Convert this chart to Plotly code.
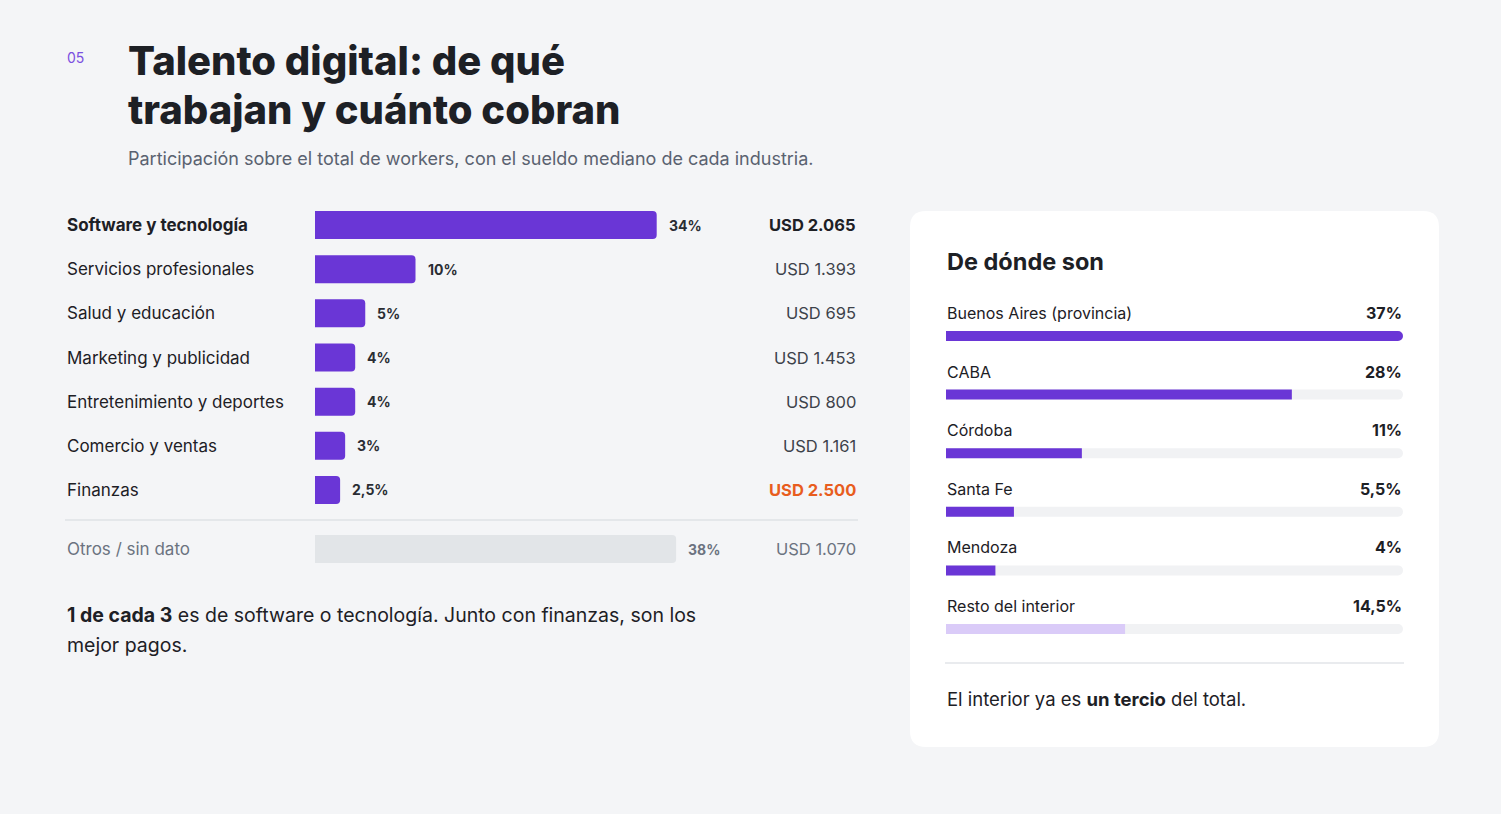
import plotly.graph_objects as go

# datos
industrias = ["Software y tecnología", "Servicios profesionales", "Salud y educación",
              "Marketing y publicidad", "Entretenimiento y deportes", "Comercio y ventas", "Finanzas"]
participacion = [34, 10, 5, 4, 4, 3, 2.5]
sueldo_mediano = [2065, 1393, 695, 1453, 800, 1161, 2500]
otros_label = "Otros / sin dato"
otros_participacion = 38
otros_sueldo = 1070

provincias = ["Buenos Aires (provincia)", "CABA", "Córdoba", "Santa Fe", "Mendoza", "Resto del interior"]
prov_participacion = [37, 28, 11, 5.5, 4, 14.5]

W, H = 1501, 814
FONT = "Inter"
PURPLE = "#6a36d6"
LIGHT_PURPLE = "#dacbf8"
DARK = "#1d2025"
GRAY = "#6b7380"
BG = "#f4f5f7"


def px(x):
    return x / W


def py(y):
    return 1 - y / H


def fmt_pct(v):
    s = f"{v:g}".replace(".", ",")
    return s + "%"


def fmt_usd(v):
    return "USD " + f"{v:,}".replace(",", ".")


fig = go.Figure()

# barras principales
rows = list(range(len(industrias)))
fig.add_trace(go.Bar(x=participacion, y=rows, orientation="h", width=0.634,
                     marker=dict(color=PURPLE, cornerradius=4, line_width=0),
                     xaxis="x", yaxis="y", hoverinfo="skip"))
fig.add_trace(go.Bar(x=[otros_participacion], y=[0], orientation="h", width=1,
                     marker=dict(color="#e2e5e8", cornerradius=4, line_width=0),
                     xaxis="x2", yaxis="y2", hoverinfo="skip"))

# panel derecho: pista + relleno
prow = list(range(len(provincias)))
pmax = max(prov_participacion)
fig.add_trace(go.Bar(x=[pmax] * len(provincias), y=prow, orientation="h", width=0.171,
                     marker=dict(color="#f1f2f4", cornerradius="50%", line_width=0),
                     xaxis="x3", yaxis="y3", hoverinfo="skip"))
fill_colors = [PURPLE] * (len(provincias) - 1) + [LIGHT_PURPLE]
fig.add_trace(go.Bar(x=prov_participacion, y=prow, orientation="h", width=0.171,
                     marker=dict(color=fill_colors, cornerradius="50%", line_width=0),
                     xaxis="x3", yaxis="y3", hoverinfo="skip"))

ann = []

# encabezado
ann.append(dict(text="05", x=px(65), y=py(57), xanchor="left", yanchor="middle",
                font=dict(size=14, color="#7b4fe0", family=FONT)))
ann.append(dict(text="Talento digital: de qué", x=px(126), y=py(61), xanchor="left", yanchor="middle",
                font=dict(size=40, color=DARK, family=FONT, weight=800)))
ann.append(dict(text="trabajan y cuánto cobran", x=px(126), y=py(110), xanchor="left", yanchor="middle",
                font=dict(size=40, color=DARK, family=FONT, weight=800)))
ann.append(dict(text="Participación sobre el total de workers, con el sueldo mediano de cada industria.",
                x=px(126), y=py(158), xanchor="left", yanchor="middle",
                font=dict(size=18, color="#5a6270", family=FONT)))

# etiquetas izquierda
for i, (name, v, s) in enumerate(zip(industrias, participacion, sueldo_mediano)):
    bold = i == 0
    ann.append(dict(text=f"<b>{name}</b>" if bold else name, xref="paper", yref="y",
                    x=px(65), y=i, xanchor="left", yanchor="middle",
                    font=dict(size=17, color=DARK, family=FONT)))
    ann.append(dict(text=f"<b>{fmt_pct(v)}</b>", xref="x", yref="y", x=v, y=i,
                    xanchor="left", yanchor="middle", xshift=10,
                    font=dict(size=14, color="#2a2d33", family=FONT)))
    if name == "Finanzas":
        usd_txt, usd_col = f"<b>{fmt_usd(s)}</b>", "#e85d1e"
    elif bold:
        usd_txt, usd_col = f"<b>{fmt_usd(s)}</b>", DARK
    else:
        usd_txt, usd_col = fmt_usd(s), "#3d424a"
    ann.append(dict(text=usd_txt, xref="paper", yref="y", x=px(858), y=i,
                    xanchor="right", yanchor="middle",
                    font=dict(size=16.5, color=usd_col, family=FONT)))

ann.append(dict(text=otros_label, xref="paper", yref="y2", x=px(65), y=0, xanchor="left", yanchor="middle",
                font=dict(size=17, color=GRAY, family=FONT)))
ann.append(dict(text=f"<b>{fmt_pct(otros_participacion)}</b>", xref="x2", yref="y2", x=otros_participacion, y=0,
                xanchor="left", yanchor="middle", xshift=10, font=dict(size=14, color=GRAY, family=FONT)))
ann.append(dict(text=fmt_usd(otros_sueldo), xref="paper", yref="y2", x=px(858), y=0,
                xanchor="right", yanchor="middle", font=dict(size=16.5, color=GRAY, family=FONT)))

ann.append(dict(text="<b>1 de cada 3</b> es de software o tecnología. Junto con finanzas, son los",
                x=px(65), y=py(615), xanchor="left", yanchor="middle",
                font=dict(size=19.5, color=DARK, family=FONT)))
ann.append(dict(text="mejor pagos.", x=px(65), y=py(645), xanchor="left", yanchor="middle",
                font=dict(size=19.5, color=DARK, family=FONT)))

# panel derecho
ann.append(dict(text="<b>De dónde son</b>", x=px(945), y=py(261), xanchor="left", yanchor="middle",
                font=dict(size=23.5, color=DARK, family=FONT)))
for i, (name, v) in enumerate(zip(provincias, prov_participacion)):
    ann.append(dict(text=name, xref="paper", yref="y3", x=px(945), y=i, yshift=23,
                    xanchor="left", yanchor="middle", font=dict(size=16, color=DARK, family=FONT)))
    ann.append(dict(text=f"<b>{fmt_pct(v)}</b>", xref="paper", yref="y3", x=px(1404), y=i, yshift=23,
                    xanchor="right", yanchor="middle", font=dict(size=16, color=DARK, family=FONT)))
ann.append(dict(text="El interior ya es <b>un tercio</b> del total.", x=px(945), y=py(699),
                xanchor="left", yanchor="middle", font=dict(size=18.5, color=DARK, family=FONT)))

for a in ann:
    a.setdefault("xref", "paper")
    a.setdefault("yref", "paper")
    a["showarrow"] = False

# tarjeta blanca con esquinas redondeadas
x0, x1 = px(910), px(1439)
yt, yb = py(211), py(747)
rx, ry = 16 / W, 16 / H
card = (f"M {x0 + rx},{yt} L {x1 - rx},{yt} Q {x1},{yt} {x1},{yt - ry} "
        f"L {x1},{yb + ry} Q {x1},{yb} {x1 - rx},{yb} L {x0 + rx},{yb} Q {x0},{yb} {x0},{yb + ry} "
        f"L {x0},{yt - ry} Q {x0},{yt} {x0 + rx},{yt} Z")

shapes = [
    dict(type="path", path=card, xref="paper", yref="paper", fillcolor="white", line_width=0, layer="below"),
    dict(type="line", xref="paper", yref="paper", x0=px(65), x1=px(858), y0=py(520), y1=py(520),
         line=dict(color="#dfe2e6", width=1.5)),
    dict(type="line", xref="paper", yref="paper", x0=px(945), x1=px(1404), y0=py(663), y1=py(663),
         line=dict(color="#e2e4e8", width=1.5)),
]

hidden = dict(visible=False, fixedrange=True)
fig.update_layout(
    width=W, height=H,
    margin=dict(l=0, r=0, t=0, b=0),
    paper_bgcolor=BG, plot_bgcolor="rgba(0,0,0,0)",
    showlegend=False, barmode="overlay",
    xaxis=dict(domain=[px(315), px(717)], range=[0, 40], anchor="y", **hidden),
    yaxis=dict(domain=[py(512), py(203)], range=[6.5, -0.5], anchor="x", **hidden),
    xaxis2=dict(domain=[px(315), px(717)], range=[0, 42.3], anchor="y2", **hidden),
    yaxis2=dict(domain=[py(563), py(535)], range=[-0.5, 0.5], anchor="x2", **hidden),
    xaxis3=dict(domain=[px(946), px(1403)], range=[0, pmax], anchor="y3", **hidden),
    yaxis3=dict(domain=[py(658.3), py(306.7)], range=[5.5, -0.5], anchor="x3", **hidden),
    annotations=ann,
    shapes=shapes,
)

# quitar el margen por defecto del body para que el gráfico quede en (0,0)
fig.write_html("out.html", config={"displayModeBar": False},
               post_script="document.body.style.margin='0';")
